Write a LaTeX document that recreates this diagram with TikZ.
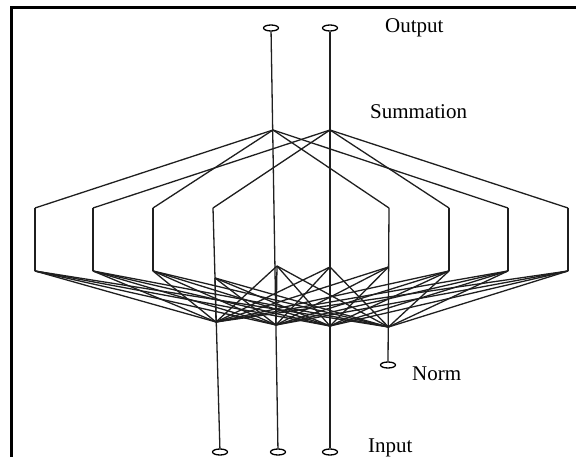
\documentclass[tikz,border=0pt]{standalone}
\usepackage{fontspec}
\setmainfont{Liberation Serif}
\usepackage{tikz}
\usetikzlibrary{shapes.geometric}
\tikzset{
  nodo/.style={ellipse, draw, line width=1.3pt, minimum width=15pt,
    minimum height=6pt, inner sep=0pt, fill=white},
  linea/.style={line width=1.3pt, draw=black!88},
  marco/.style={line width=3pt},
  etq/.style={font=\fontsize{21}{25}\selectfont, anchor=base west, inner sep=0pt},
}

\begin{document}
\begin{tikzpicture}[x=1pt, y=-1pt]
  \useasboundingbox (0,0) rectangle (576,457);
  \draw[marco] (11,462) |- (580,8);
  % unidades de salida, norma y entrada
  \node[nodo] (out1) at (271,28) {};
  \node[nodo] (out2) at (330,28) {};
  \node[nodo] (norm) at (388,365) {};
  \node[nodo] (in1) at (220,452) {};
  \node[nodo] (in2) at (278,452) {};
  \node[nodo] (in3) at (330,452) {};
  % puntos de suma y capa de patrones
  \coordinate (s1) at (273,130);
  \coordinate (s2) at (330,130);
  \foreach \n/\x in {1/35,2/93,3/153,4/213,5/389,6/449,7/508,8/568}
    \coordinate (p\n) at (\x,208);
  \foreach \n/\x in {1/35,2/93,3/153,6/449,7/508,8/568}
    \coordinate (q\n) at (\x,271);
  \coordinate (u1) at (215,278);
  \coordinate (u2) at (277,266);
  \coordinate (u3) at (330,267);
  \coordinate (u4) at (388.5,267);
  \coordinate (l1) at (216,322);
  \coordinate (l2) at (276,325);
  \coordinate (l3) at (330,326);
  \coordinate (l4) at (388.5,327);
  % lineas verticales
  \draw[linea] (out1) -- (in2);
  \draw[linea] (out2) -- (in3);
  \draw[linea] (p4) -- (in1);
  \draw[linea] (p5) -- (norm);
  \foreach \k in {1,3,5,7} \draw[linea] (s1) -- (p\k);
  \foreach \k in {2,4,6,8} \draw[linea] (s2) -- (p\k);
  \foreach \k in {1,2,3,6,7,8} {
    \draw[linea] (p\k) -- (q\k);
    \foreach \j in {1,...,4} \draw[linea] (q\k) -- (l\j);
  }
  \foreach \i in {1,...,4}
    \foreach \j in {1,...,4} \draw[linea] (u\i) -- (l\j);
  % etiquetas
  \node[etq] (tout) at (385,33) {Output};
  \node[etq] (tsum) at (370,119) {Summation};
  \node[etq] (tnorm) at (412,380) {Norm};
  \node[etq] (tin) at (368,452) {Input};
\end{tikzpicture}
\end{document}
